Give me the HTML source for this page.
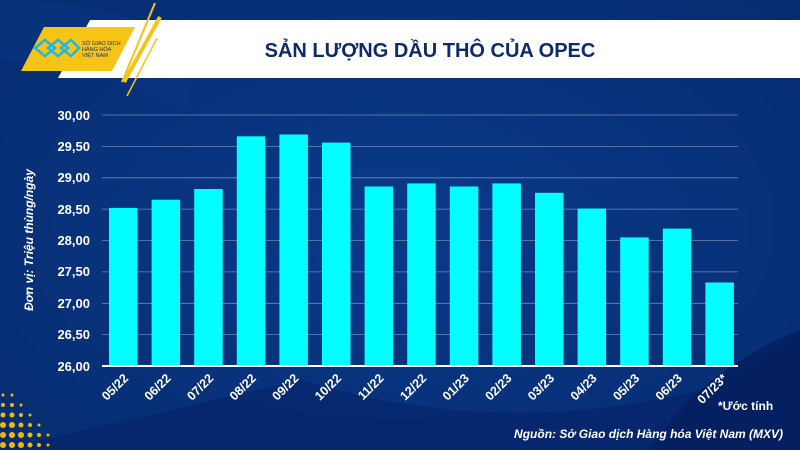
<!DOCTYPE html>
<html><head><meta charset="utf-8"><style>
html,body{margin:0;padding:0;width:800px;height:450px;overflow:hidden;background:#06296e;}
svg{display:block;font-family:"Liberation Sans",sans-serif;}
</style></head><body>
<svg width="800" height="450" viewBox="0 0 800 450">
<defs>
<radialGradient id="bg" cx="0.5" cy="0.5" r="0.8"><stop offset="0" stop-color="#0a3a8a"/><stop offset="1" stop-color="#062a6c"/></radialGradient>
</defs>
<rect width="800" height="450" fill="url(#bg)"/>
<path d="M0 60 Q100 70 190 110 Q200 0 0 0Z" fill="#0a3580" opacity="0.6"/>
<path d="M300 380 Q500 440 700 390 Q760 370 800 330 L800 450 L0 450 Z" fill="#05246a" opacity="0.7"/>
<path d="M650 450 Q700 370 800 330 L800 450Z" fill="#041f5e" opacity="0.8"/>
<g fill="#f4b800">
<circle cx="3" cy="395" r="1.5"/><circle cx="12" cy="395" r="1.5"/><circle cx="3" cy="405" r="2"/><circle cx="12" cy="405" r="2"/><circle cx="21" cy="405" r="1.5"/>
<circle cx="3" cy="415" r="2.5"/><circle cx="12" cy="415" r="2.5"/><circle cx="21" cy="415" r="2"/><circle cx="30" cy="415" r="1.5"/>
<circle cx="3" cy="425" r="3"/><circle cx="12" cy="425" r="3"/><circle cx="21" cy="425" r="2.5"/><circle cx="30" cy="425" r="2"/><circle cx="39" cy="425" r="1.5"/>
<circle cx="3" cy="435" r="3"/><circle cx="12" cy="435" r="3"/><circle cx="21" cy="435" r="3"/><circle cx="30" cy="435" r="2.5"/><circle cx="39" cy="435" r="2"/><circle cx="48" cy="435" r="1.5"/>
<circle cx="3" cy="445" r="3"/><circle cx="12" cy="445" r="3"/><circle cx="21" cy="445" r="3"/><circle cx="30" cy="445" r="2.5"/><circle cx="39" cy="445" r="2"/><circle cx="48" cy="445" r="1.5"/>
</g>
<polygon points="90,20 800,20 800,78 58,78" fill="#fff"/>
<polygon points="44,27 135,27 112,71 21,71" fill="#f6c414"/>
<line x1="155" y1="3" x2="122" y2="82" stroke="#f6c414" stroke-width="2"/>
<line x1="160" y1="17" x2="124" y2="82" stroke="#f6c414" stroke-width="4"/>
<line x1="157" y1="38" x2="127" y2="96" stroke="#f6c414" stroke-width="1.5"/>
<g fill="none" stroke="#1fb6e8" stroke-width="2.5">
<path d="M35 48 L45 40 L55 48 L45 56Z"/><path d="M48 48 L58 40 L68 48 L58 56Z"/><path d="M61 48 L71 40 L79 48 L71 56Z"/>
</g>
<text x="82" y="45" font-size="5.5" fill="#203060">SỞ GIAO DỊCH</text>
<text x="82" y="51" font-size="5.5" fill="#203060">HÀNG HÓA</text>
<text x="82" y="57" font-size="5.5" fill="#203060">VIỆT NAM</text>
<text x="430" y="57" font-size="20" font-weight="bold" fill="#0d2a6b" text-anchor="middle">SẢN LƯỢNG DẦU THÔ CỦA OPEC</text>
<g stroke="#6f86b8" stroke-width="0.8">
<line x1="102" y1="115" x2="738" y2="115"/><line x1="102" y1="146.4" x2="738" y2="146.4"/>
<line x1="102" y1="177.8" x2="738" y2="177.8"/><line x1="102" y1="209.1" x2="738" y2="209.1"/>
<line x1="102" y1="240.5" x2="738" y2="240.5"/><line x1="102" y1="271.9" x2="738" y2="271.9"/>
<line x1="102" y1="303.3" x2="738" y2="303.3"/><line x1="102" y1="334.6" x2="738" y2="334.6"/>
</g>
<g fill="#fff" font-size="13" font-weight="bold" text-anchor="end">
<text x="90" y="120">30,00</text><text x="90" y="151">29,50</text><text x="90" y="182">29,00</text>
<text x="90" y="214">28,50</text><text x="90" y="245">28,00</text><text x="90" y="276">27,50</text>
<text x="90" y="308">27,00</text><text x="90" y="339">26,50</text><text x="90" y="371">26,00</text>
</g>
<text transform="translate(33,240) rotate(-90)" fill="#fff" font-size="12" font-weight="bold" font-style="italic" text-anchor="middle">Đơn vị: Triệu thùng/ngày</text>
<g fill="#00ffff">
<rect x="109" y="207.9" width="28.5" height="158.1"/>
<rect x="151.6" y="199.7" width="28.5" height="166.3"/>
<rect x="194.2" y="189" width="28.5" height="177"/>
<rect x="236.8" y="136.3" width="28.5" height="229.7"/>
<rect x="279.4" y="134.5" width="28.5" height="231.5"/>
<rect x="322" y="142.6" width="28.5" height="223.4"/>
<rect x="364.6" y="186.5" width="28.5" height="179.5"/>
<rect x="407.2" y="183.4" width="28.5" height="182.6"/>
<rect x="449.8" y="186.5" width="28.5" height="179.5"/>
<rect x="492.4" y="183.4" width="28.5" height="182.6"/>
<rect x="535" y="192.8" width="28.5" height="173.2"/>
<rect x="577.6" y="208.5" width="28.5" height="157.5"/>
<rect x="620.2" y="237.4" width="28.5" height="128.6"/>
<rect x="662.8" y="228.6" width="28.5" height="137.4"/>
<rect x="705.4" y="282.5" width="28.5" height="83.5"/>
</g>
<line x1="102" y1="366" x2="738" y2="366" stroke="#fff" stroke-width="2"/>
<g fill="#fff" font-size="12.5" font-weight="bold" text-anchor="end">
<text transform="translate(129,379) rotate(-45)">05/22</text>
<text transform="translate(171.6,379) rotate(-45)">06/22</text>
<text transform="translate(214.2,379) rotate(-45)">07/22</text>
<text transform="translate(256.8,379) rotate(-45)">08/22</text>
<text transform="translate(299.4,379) rotate(-45)">09/22</text>
<text transform="translate(342,379) rotate(-45)">10/22</text>
<text transform="translate(384.6,379) rotate(-45)">11/22</text>
<text transform="translate(427.2,379) rotate(-45)">12/22</text>
<text transform="translate(469.8,379) rotate(-45)">01/23</text>
<text transform="translate(512.4,379) rotate(-45)">02/23</text>
<text transform="translate(555,379) rotate(-45)">03/23</text>
<text transform="translate(597.6,379) rotate(-45)">04/23</text>
<text transform="translate(640.2,379) rotate(-45)">05/23</text>
<text transform="translate(682.8,379) rotate(-45)">06/23</text>
<text transform="translate(728,379) rotate(-45)">07/23*</text>
</g>
<text x="718" y="410" fill="#fff" font-size="12" font-weight="bold">*Ước tính</text>
<text x="783" y="438" fill="#fff" font-size="12" font-weight="bold" font-style="italic" text-anchor="end">Nguồn: Sở Giao dịch Hàng hóa Việt Nam (MXV)</text>
</svg>
</body></html>
